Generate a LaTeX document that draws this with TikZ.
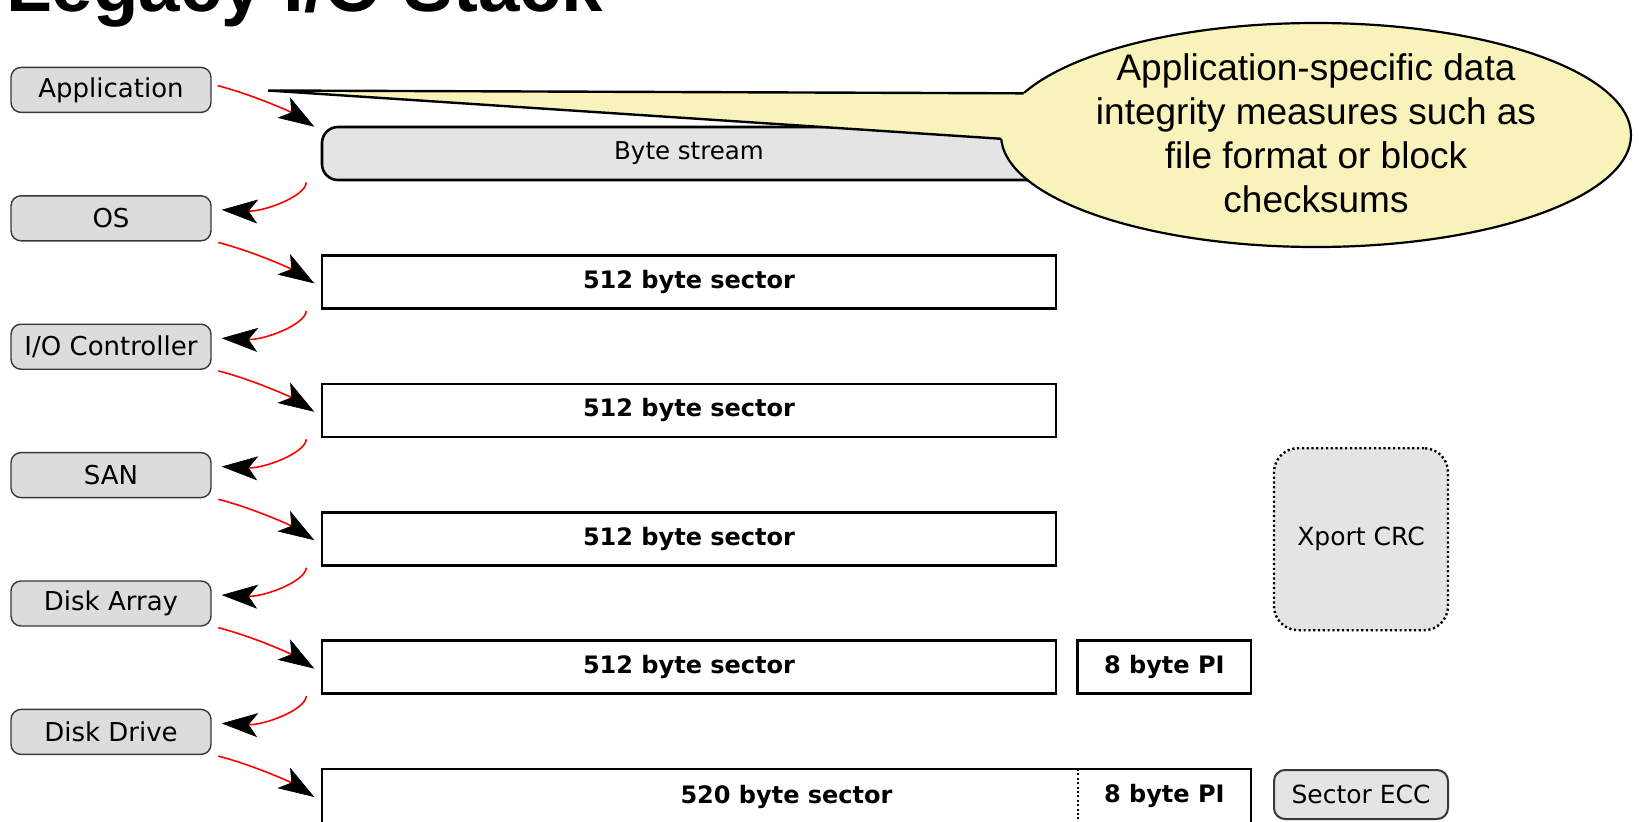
\documentclass[tikz,border=0pt]{standalone}
\usepackage{fontspec}
\setmainfont{DejaVu Sans}
\newfontfamily\arialfont{Liberation Sans}
\usetikzlibrary{arrows.meta,shapes.geometric,calc}
\definecolor{boxgray}{HTML}{DCDCDC}
\definecolor{streamgray}{HTML}{E4E4E4}
\definecolor{calloutyellow}{HTML}{F8F3BA}
\definecolor{edgegray}{HTML}{383838}

\begin{document}
\begin{tikzpicture}[x=1pt,y=-1pt,
  layer/.style={draw=edgegray, line width=1.4pt, fill=boxgray, rounded corners=10pt,
    minimum width=200pt, minimum height=45pt, inner sep=0pt,
    font=\fontsize{26}{30}\selectfont},
  sectorbox/.style={draw=black, line width=2.6pt, fill=white, minimum height=53pt,
    inner sep=0pt, font=\bfseries\fontsize{24}{28}\selectfont},
  streambox/.style={sectorbox, fill=streamgray, rounded corners=16pt,
    font=\fontsize{24.5}{28}\selectfont},
  checkbox/.style={draw=edgegray, line width=2pt, fill=streamgray, rounded corners=11pt,
    minimum width=174pt, inner sep=0pt, font=\fontsize{25}{30}\selectfont},
  crcbox/.style={checkbox, draw=black, line width=2.4pt, dash pattern=on 2.2pt off 2.6pt,
    rounded corners=24pt},
  flow/.style={draw=red, line width=1.6pt,
    -{Stealth[length=36pt,width=24pt,inset=9pt,color=black,fill=black,line width=0.6pt]}},
]
\useasboundingbox (0,0) rectangle (1639,822);

% title (runs off the top edge)
\node[anchor=base west, inner sep=0pt, font=\arialfont\bfseries\fontsize{74.5}{80}\selectfont]
  (title) at (6,11) {Legacy I/O Stack};

% layers of the stack
\node[layer] (app)  at (111,89.9)  {Application};
\node[layer] (os)   at (111,218.3) {OS};
\node[layer] (ioc)  at (111,346.7) {I/O Controller};
\node[layer] (san)  at (111,475.1) {SAN};
\node[layer] (darr) at (111,603.5) {Disk Array};
\node[layer] (ddrv) at (111,731.9) {Disk Drive};

% data units
\node[streambox, minimum width=734pt] (bs) at (689,153.5) {Byte stream};
\node[sectorbox, minimum width=734pt] (s1) at (689,281.9) {512 byte sector};
\node[sectorbox, minimum width=734pt] (s2) at (689,410.3) {512 byte sector};
\node[sectorbox, minimum width=734pt] (s3) at (689,538.7) {512 byte sector};
\node[sectorbox, minimum width=734pt] (s4) at (689,667.1) {512 byte sector};
\node[sectorbox, minimum width=173.3pt] (pi4) at (1164.35,667.1) {8 byte PI};
\node[sectorbox, minimum width=929pt, minimum height=55pt] (s5) at (786.5,796.5) {520 byte sector};
\draw[line width=2pt, dash pattern=on 2pt off 2.4pt] (1077.7,769) -- (1077.7,822);
\node[font=\bfseries\fontsize{24}{28}\selectfont, inner sep=0pt] (pi5) at (1164.35,795.5) {8 byte PI};

% checks outside the data path
\node[crcbox, minimum height=182pt] (crc) at (1361,539.2) {Xport CRC};
\node[checkbox, minimum height=49pt] (ecc) at (1361,794.5) {Sector ECC};

% hand-off arrows
\coordinate (f0s) at (217.7,85.7);
\coordinate (f0e) at (314.3,126.7);
\draw[flow] (f0s) .. controls +(35,9) and +(-24,-15) .. (f0e);
\foreach \i in {1,...,5}{
  \pgfmathsetmacro\Ly{89.9+128.4*\i}
  \pgfmathsetmacro\Ry{153.5+128.4*\i}
  \pgfmathsetmacro\Rp{153.5+128.4*(\i-1)}
  \coordinate (r\i s) at (306.3,\Rp+29);
  \coordinate (r\i e) at (221.7,\Ly-8.5);
  \coordinate (f\i s) at (218.3,\Ly+24.2);
  \coordinate (f\i e) at (314.3,\Ry+1.5);
  \draw[flow] (r\i s) .. controls +(-1,14) and +(42,2) .. (r\i e);
  \draw[flow] (f\i s) .. controls +(35,9) and +(-24,-15) .. (f\i e);
}

% callout
\node[ellipse, draw=black, line width=2.2pt, fill=calloutyellow,
  minimum width=630pt, minimum height=224pt, inner sep=0pt] (callout) at (1316,135) {};
\coordinate (tailtip) at (268,90.5);
\coordinate (tailtop) at (1023.7,93.33);
\coordinate (tailbot) at (1001.3,138.8);
\fill[calloutyellow] (tailtip) -- (1034,93.37) -- (1020,140.0) -- cycle;
\draw[line width=2.4pt, line join=miter] (tailtop) -- (tailtip) -- (tailbot);
\node[align=center, inner sep=0pt, font=\arialfont\fontsize{37}{44}\selectfont]
  (note) at (1316,133.5)
  {Application-specific data\\integrity measures such as\\file format or block\\checksums};
\end{tikzpicture}
\end{document}
